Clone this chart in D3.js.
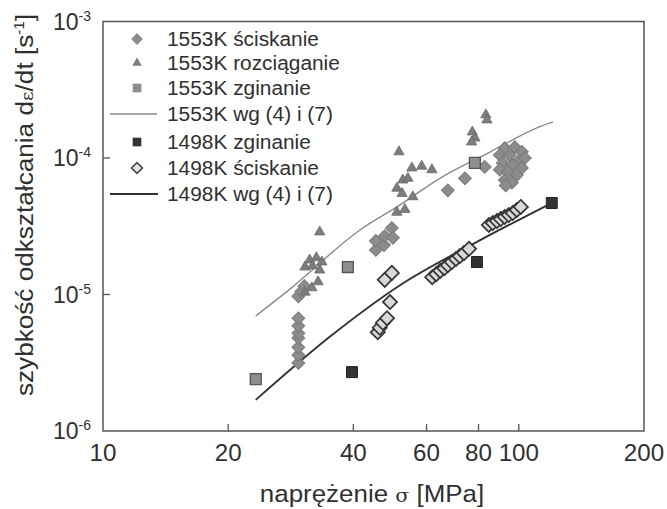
<!DOCTYPE html>
<html>
<head>
<meta charset="utf-8">
<script src="https://cdn.jsdelivr.net/npm/d3@7"></script>
<style>
  body { margin: 0; background: #fff; }
  svg { display: block; }
  text { font-family: "Liberation Sans", Arial, sans-serif; fill: #303030; }
</style>
</head>
<body>
<svg id="chart" width="667" height="509"></svg>
<script>
// stress [MPa], strain rate [1/s]
const compr1553 = [
  [29.5, 3.15e-6], [29.5, 3.6e-6], [29.5, 4.1e-6], [29.5, 4.8e-6], [29.5, 5.2e-6],
  [29.5, 5.9e-6], [29.5, 6.7e-6], [29.5, 9.7e-6], [30.0, 1.05e-5], [30.5, 1.15e-5],
  [45.3, 2.12e-5], [45.3, 2.47e-5], [47.4, 2.3e-5], [47.6, 2.68e-5], [49.5, 3.07e-5],
  [49.8, 2.6e-5],
  [67.5, 5.8e-5], [74.2, 7.1e-5], [82.8, 8.6e-5],
  [92.5, 1.18e-4], [97.8, 1.2e-4], [101.7, 1.11e-4], [90.0, 1.05e-4], [95.1, 1.05e-4],
  [100.6, 9.7e-5], [103.4, 1.0e-4], [91.5, 9.2e-5], [96.7, 8.9e-5], [101.7, 8.45e-5],
  [90.0, 8.2e-5], [94.1, 7.9e-5], [98.9, 7.5e-5], [92.5, 6.9e-5], [96.2, 6.6e-5], [93.0, 6.3e-5]
];
const tens1553 = [
  [33.2, 2.87e-5],
  [30.6, 1.59e-5], [31.4, 1.79e-5], [32.6, 1.86e-5], [33.6, 1.73e-5], [31.9, 1.62e-5],
  [33.2, 1.51e-5], [32.9, 1.24e-5], [31.8, 1.12e-5], [30.6, 1.04e-5],
  [51.5, 1.11e-4], [55.3, 8.45e-5], [58.4, 8.7e-5], [61.8, 8.2e-5], [52.6, 6.9e-5],
  [54.1, 7.1e-5], [50.9, 6.0e-5], [52.4, 5.5e-5], [55.6, 5.2e-5], [50.9, 4.0e-5], [53.2, 4.2e-5],
  [77.3, 1.55e-4], [78.4, 1.4e-4], [77.0, 1.31e-4], [83.3, 2.07e-4], [83.8, 1.9e-4]
];
const bend1553 = [[23.3, 2.4e-6], [38.8, 1.59e-5], [78.4, 9.2e-5]];
const model1553 = [[23.3, 6.96e-6], [28.2, 1.1e-5], [41.5, 2.97e-5], [50.9, 4.38e-5],
  [64.6, 7.1e-5], [85, 1.1e-4], [112, 1.69e-4], [120.8, 1.84e-4]];

const bend1498 = [[39.7, 2.7e-6], [79.3, 1.73e-5], [120, 4.68e-5]];
const compr1498 = [
  [45.8, 5.3e-6], [46.3, 5.7e-6], [47.1, 6.2e-6], [48.2, 6.7e-6], [49.0, 8.8e-6],
  [47.6, 1.28e-5], [49.5, 1.44e-5],
  [61.9, 1.34e-5], [63.3, 1.41e-5], [64.7, 1.49e-5], [66.2, 1.56e-5], [67.5, 1.64e-5],
  [69.0, 1.73e-5], [70.6, 1.82e-5], [72.1, 1.91e-5], [73.8, 2.01e-5], [75.9, 2.16e-5],
  [84.7, 3.23e-5], [86.6, 3.34e-5], [88.6, 3.45e-5], [90.5, 3.57e-5], [92.5, 3.7e-5],
  [94.6, 3.82e-5], [96.7, 3.95e-5], [98.9, 4.16e-5], [101.1, 4.38e-5]
];
const model1498 = [[23.3, 1.69e-6], [35.1, 4.9e-6], [51.8, 1.17e-5], [79.3, 2.43e-5], [120, 4.68e-5]];

const xTicks = [10, 20, 40, 60, 80, 100, 200];
const yTicks = [1e-6, 1e-5, 1e-4, 1e-3];
const legendLabels = [
  '1553K ściskanie', '1553K rozciąganie', '1553K zginanie', '1553K wg (4) i (7)',
  '1498K zginanie', '1498K ściskanie', '1498K wg (4) i (7)'
];

const svg = d3.select('#chart');
const x = d3.scaleLog().domain([10, 200]).range([103, 644]);
const y = d3.scaleLog().domain([1e-6, 1e-3]).range([431, 21.5]);

// stretch text a little, the scanned font is wider than Arial
function widen(sel, k) {
  sel.each(function() {
    const w = this.getComputedTextLength();
    d3.select(this).attr('textLength', w * k).attr('lengthAdjust', 'spacingAndGlyphs');
  });
}

// frame
svg.append('rect')
  .attr('x', x(10)).attr('y', y(1e-3))
  .attr('width', x(200) - x(10)).attr('height', y(1e-6) - y(1e-3))
  .attr('fill', 'none').attr('stroke', '#555').attr('stroke-width', 1.5);

// ticks (inside)
svg.selectAll('.xt').data(xTicks.filter(d => d > 10 && d < 200)).enter()
  .append('line')
  .attr('x1', d => x(d)).attr('x2', d => x(d))
  .attr('y1', y(1e-6)).attr('y2', y(1e-6) - 7)
  .attr('stroke', '#555').attr('stroke-width', 1.3);
svg.selectAll('.yt').data(yTicks.filter(d => d > 1e-6 && d < 1e-3)).enter()
  .append('line')
  .attr('x1', x(10)).attr('x2', x(10) + 7)
  .attr('y1', d => y(d)).attr('y2', d => y(d))
  .attr('stroke', '#555').attr('stroke-width', 1.3);

// tick labels
svg.selectAll('.xl').data(xTicks).enter()
  .append('text')
  .attr('x', d => x(d)).attr('y', 461)
  .attr('text-anchor', 'middle')
  .style('font-size', '23px')
  .text(d => d)
  .call(widen, 1.05);

const yl = svg.selectAll('.yl').data(yTicks).enter()
  .append('text')
  .attr('x', 53).attr('y', d => y(d) + 8)
  .style('font-size', '23px');
yl.append('tspan').text('10');
yl.append('tspan').attr('dy', -9).style('font-size', '14px').text(d => Math.round(Math.log10(d)));

// axis titles
const xt = svg.append('text')
  .attr('transform', 'translate(372,502) scale(1.08,1)')
  .attr('text-anchor', 'middle')
  .style('font-size', '24px');
xt.append('tspan').text('naprężenie ');
xt.append('tspan').style('font-family', '"DejaVu Serif", serif').style('font-size', '19px').text('σ');
xt.append('tspan').text(' [MPa]');

const yt = svg.append('text')
  .attr('transform', 'translate(33,205) rotate(-90) scale(1.09,1)')
  .attr('text-anchor', 'middle')
  .style('font-size', '24px');
yt.append('tspan').text('szybkość odkształcania d');
yt.append('tspan').style('font-family', '"DejaVu Serif", serif').style('font-size', '17px').text('ε');
yt.append('tspan').text('/dt [s');
yt.append('tspan').attr('dy', -9).style('font-size', '14px').text('-1');
yt.append('tspan').attr('dy', 9).text(']');

// model lines
const line = d3.line().x(d => x(d[0])).y(d => y(d[1])).curve(d3.curveMonotoneX);
svg.append('path').datum(model1553).attr('d', line)
  .attr('fill', 'none').attr('stroke', '#8a8a8a').attr('stroke-width', 1.4);
svg.append('path').datum(model1498).attr('d', line)
  .attr('fill', 'none').attr('stroke', '#333').attr('stroke-width', 1.9);

// markers
const diamond = d3.symbol().type(d3.symbolSquare).size(82);
const openDiamond = d3.symbol().type(d3.symbolSquare).size(100);
const triangle = d3.symbol().type(d3.symbolTriangle).size(46);
const square = d3.symbol().type(d3.symbolSquare).size(120);

function plot(data, gen, rot, fill, stroke, sw) {
  svg.append('g').selectAll('path').data(data).enter()
    .append('path')
    .attr('d', gen)
    .attr('transform', d => `translate(${x(d[0])},${y(d[1])}) rotate(${rot})`)
    .attr('fill', fill).attr('stroke', stroke).attr('stroke-width', sw);
}
plot(compr1553, diamond, 45, '#8c8c8c', '#7a7a7a', 1);
plot(tens1553, triangle, 0, '#7d7d7d', '#6a6a6a', 0.8);
plot(bend1553, square, 0, '#8e8e8e', '#555', 1.3);
plot(compr1498, openDiamond, 45, '#d8d8d8', '#353535', 1.7);
plot(bend1498, square, 0, '#333', '#222', 1);

// legend
const legY = [39, 63, 88, 114, 142, 168, 194];
const leg = svg.append('g');
const symX = 137;
leg.append('path').attr('d', d3.symbol().type(d3.symbolSquare).size(70)())
  .attr('transform', `translate(${symX},${legY[0]}) rotate(45)`).attr('fill', '#8c8c8c');
leg.append('path').attr('d', d3.symbol().type(d3.symbolTriangle).size(40)())
  .attr('transform', `translate(${symX},${legY[1]})`).attr('fill', '#7d7d7d');
leg.append('path').attr('d', d3.symbol().type(d3.symbolSquare).size(75)())
  .attr('transform', `translate(${symX},${legY[2]})`).attr('fill', '#8e8e8e');
leg.append('line').attr('x1', 110).attr('x2', 157).attr('y1', legY[3]).attr('y2', legY[3])
  .attr('stroke', '#8a8a8a').attr('stroke-width', 1.3);
leg.append('path').attr('d', d3.symbol().type(d3.symbolSquare).size(75)())
  .attr('transform', `translate(${symX},${legY[4]})`).attr('fill', '#333');
leg.append('path').attr('d', d3.symbol().type(d3.symbolSquare).size(60)())
  .attr('transform', `translate(${symX},${legY[5]}) rotate(45)`)
  .attr('fill', '#e4e4e4').attr('stroke', '#444').attr('stroke-width', 1.6);
leg.append('line').attr('x1', 110).attr('x2', 158).attr('y1', legY[6]).attr('y2', legY[6])
  .attr('stroke', '#333').attr('stroke-width', 1.9);

leg.selectAll('text').data(legendLabels).enter()
  .append('text')
  .attr('x', 167).attr('y', (d, i) => legY[i] + 7)
  .style('font-size', '19.5px')
  .text(d => d)
  .call(widen, 1.07);
</script>
</body>
</html>
